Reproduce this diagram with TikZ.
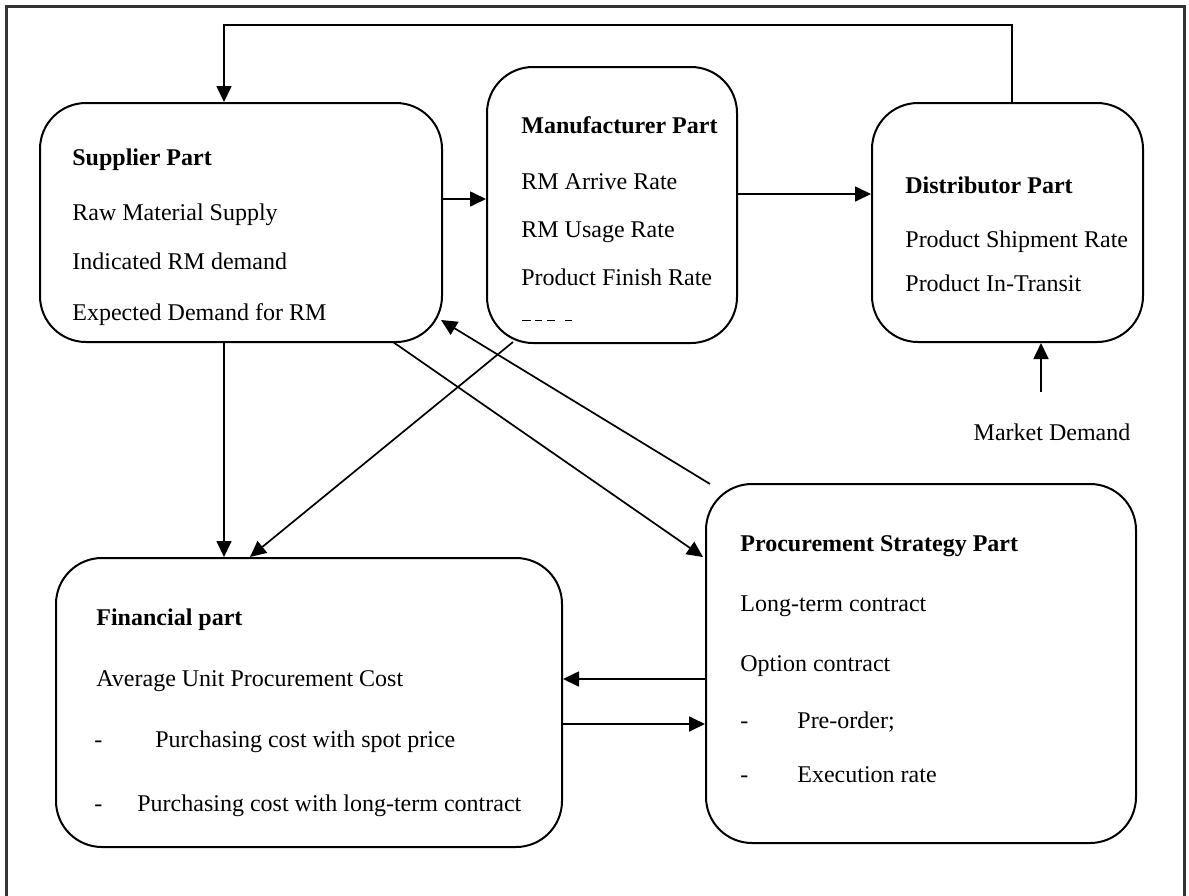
\documentclass[tikz,border=0pt]{standalone}
\usepackage{fontspec}
\setmainfont{Liberation Serif}
\usetikzlibrary{arrows.meta,fit}
\begin{document}
\begin{tikzpicture}[x=0.5pt,y=-0.5pt,
  box/.style={draw,line width=1pt,rounded corners=23pt,inner sep=0pt},
  arr/.style={line width=0.85pt,-{Triangle[length=8pt,width=7.5pt]}},
  txt/.style={anchor=base west,inner sep=0pt,font=\fontsize{12}{14}\selectfont},
  head/.style={txt,font=\fontsize{12}{14}\selectfont\bfseries},
  frame/.style={draw=black!80,line width=1.5pt}]
\useasboundingbox (0,0) rectangle (1189,895);
\draw[frame] (6,900) -- (6,6) -- (1184,6) -- (1184,900);
% boxes
\node[box,fit={(40,103) (442,342)}] (sup) {};
\node[box,fit={(487,67) (737,343)}] (man) {};
\node[box,fit={(872,103) (1143,342)}] (dist) {};
\node[box,fit={(56,558) (562,847)}] (fin) {};
\node[box,fit={(706,484) (1136,843)}] (proc) {};
% supplier texts
\node[head] (s0) at (72,165) {Supplier Part};
\node[txt] (s1) at (72,220) {Raw Material Supply};
\node[txt] (s2) at (72,269) {Indicated RM demand};
\node[txt] (s3) at (72,320) {Expected Demand for RM};
% manufacturer texts
\node[head] (m0) at (521,133) {Manufacturer Part};
\node[txt] (m1) at (521,189) {RM Arrive Rate};
\node[txt] (m2) at (521,237) {RM Usage Rate};
\node[txt] (m3) at (521,285) {Product Finish Rate};
\draw[line width=0.5pt] (522,320) -- (531,320) (535,320) -- (542,320) (547,320) -- (555,320) (565,320) -- (572,320);
% distributor texts
\node[head] (d0) at (905,193) {Distributor Part};
\node[txt] (d1) at (905,247) {Product Shipment Rate};
\node[txt] (d2) at (905,291) {Product In-Transit};
% market demand
\node[txt,anchor=base] (md) at (1052,440) {Market Demand};
% financial texts
\node[head] (f0) at (96,625) {Financial part};
\node[txt] (f1) at (96,686) {Average Unit Procurement Cost};
\node[txt] (f2a) at (94,747) {-};
\node[txt] (f2) at (155,747) {Purchasing cost with spot price};
\node[txt] (f3a) at (94,811) {-};
\node[txt] (f3) at (137,811) {Purchasing cost with long-term contract};
% procurement texts
\node[head] (p0) at (740,551) {Procurement Strategy Part};
\node[txt] (p1) at (740,611) {Long-term contract};
\node[txt] (p2) at (740,671) {Option contract};
\node[txt] (p3a) at (740,728) {-};
\node[txt] (p3) at (797,728) {Pre-order;};
\node[txt] (p4a) at (740,782) {-};
\node[txt] (p4) at (797,782) {Execution rate};
% helper coordinates
\coordinate (fb1) at (1012,25);
\coordinate (fb2) at (224,25);
\coordinate (ya) at (0,199);
\coordinate (yb) at (0,194);
\coordinate (mdA) at (1041,392);
\coordinate (yc) at (0,679);
\coordinate (yd) at (0,724);
\coordinate (mS) at (513,342);
\coordinate (fN) at (250,557);
\coordinate (sS) at (393,342);
\coordinate (pW) at (703,557);
\coordinate (pT) at (710,484);
\coordinate (sE) at (441,320);
% connectors
\draw[arr] (fb1 |- dist.north) -- (fb1) -- (fb2) -- (fb2 |- sup.north);
\draw[arr] (sup.east |- ya) -- (man.west |- ya);
\draw[arr] (man.east |- yb) -- (dist.west |- yb);
\draw[arr] (mdA) -- (mdA |- dist.south);
\draw[arr] (fb2 |- sup.south) -- (fb2 |- fin.north);
\draw[arr] (mS) -- (fN);
\draw[arr] (sS) -- (pW);
\draw[arr] (pT) -- (sE);
\draw[arr] (proc.west |- yc) -- (fin.east |- yc);
\draw[arr] (fin.east |- yd) -- (proc.west |- yd);
\end{tikzpicture}
\end{document}
